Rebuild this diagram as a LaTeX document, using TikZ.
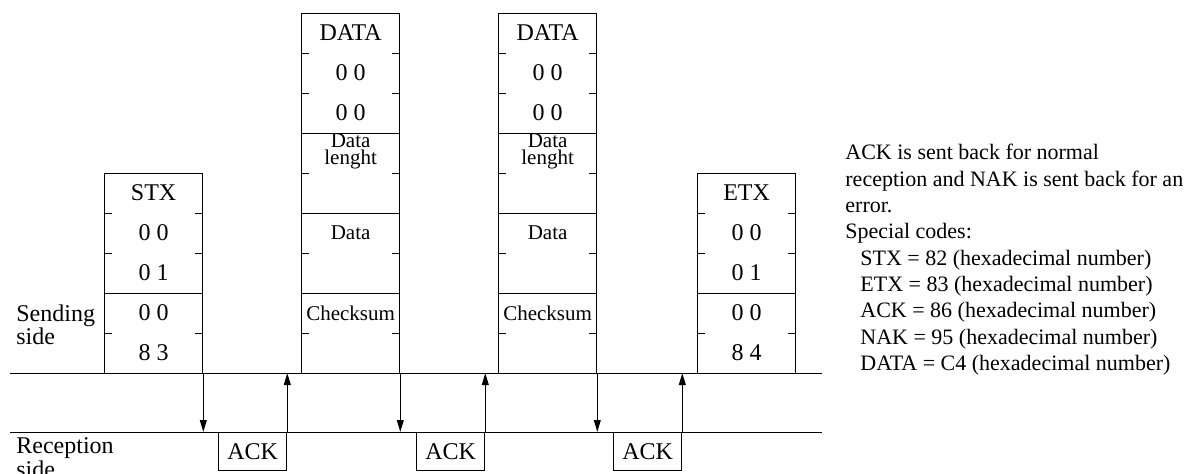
\documentclass[tikz,border=0pt]{standalone}
\usepackage{fontspec}
\setmainfont{Liberation Serif}
\usetikzlibrary{arrows.meta,positioning,calc}

\begin{document}
\begin{tikzpicture}[x=0.5pt,y=-0.5pt,font=\fontsize{12}{14}\selectfont,
  frame/.style={draw,line width=0.65pt,minimum width=49pt,inner sep=0,anchor=north west},
  ackbox/.style={draw,line width=0.65pt,minimum width=34pt,minimum height=19pt,inner sep=0,anchor=north west},
  field/.style={inner sep=0},
  small/.style={inner sep=0,font=\fontsize{10.5}{7}\selectfont,align=center},
  rowline/.style={line width=0.45pt},
  level/.style={line width=0.5pt},
  side/.style={inner sep=0,anchor=north west,align=left,font=\fontsize{12}{9.5}\selectfont},
  msg/.style={-{Triangle[length=6pt,width=3.4pt]},line width=0.65pt}]
  \useasboundingbox (0,0) rectangle (1184,473);

  % sending and reception levels
  \coordinate (sendL) at (10,373);
  \coordinate (sendR) at (822,373);
  \coordinate (recvL) at (10,432);
  \coordinate (recvR) at (822,432);
  \draw[level] (sendL) -- (sendR);
  \draw[level] (recvL) -- (recvR);
  \node[side] (sendlbl) at (16,304) {Sending\\side};
  \node[side] (recvlbl) at (16,437) {Reception\\side};

  % frames
  \node[frame,minimum height=100pt] (stx) at (104,173) {};
  \node[frame,minimum height=180pt] (data1) at (301,13) {};
  \node[frame,minimum height=180pt] (data2) at (498,13) {};
  \node[frame,minimum height=100pt] (etx) at (697,173) {};

  \foreach \fr in {stx,etx}{
    \foreach \k in {1,2,4}{
      \draw[rowline] ($(\fr.north west)+(0,\k*40)$) -- ++(8,0);
      \draw[rowline] ($(\fr.north east)+(0,\k*40)$) -- ++(-8,0);
    }
    \draw[rowline] ($(\fr.north west)+(0,120)$) -- ($(\fr.north east)+(0,120)$);
  }
  \foreach \fr in {data1,data2}{
    \foreach \k in {1,2,4,6,8}{
      \draw[rowline] ($(\fr.north west)+(0,\k*40)$) -- ++(8,0);
      \draw[rowline] ($(\fr.north east)+(0,\k*40)$) -- ++(-8,0);
    }
    \foreach \k in {3,5,7}
      \draw[rowline] ($(\fr.north west)+(0,\k*40)$) -- ($(\fr.north east)+(0,\k*40)$);
    \node[field] at ($(\fr.north)+(0,20)$) {DATA};
    \node[field] at ($(\fr.north)+(0,60)$) {0 0};
    \node[field] at ($(\fr.north)+(0,100)$) {0 0};
    \node[small] at ($(\fr.north)+(0,138)$) {Data\\lenght};
    \node[small] at ($(\fr.north)+(0,220)$) {Data};
    \node[small] at ($(\fr.north)+(0,300)$) {Checksum};
  }
  \foreach \txt [count=\k] in {STX,0 0,0 1,0 0,8 3}
    \node[field] at ($(stx.north)+(0,\k*40-20)$) {\txt};
  \foreach \txt [count=\k] in {ETX,0 0,0 1,0 0,8 4}
    \node[field] at ($(etx.north)+(0,\k*40-20)$) {\txt};

  % acknowledgements
  \node[ackbox] (ack1) at (218,432) {};
  \node[ackbox] (ack2) at (416,432) {};
  \node[ackbox] (ack3) at (613,432) {};
  \foreach \a in {ack1,ack2,ack3}
    \node[field] at (\a.center) {ACK};

  % messages
  \foreach \fr/\n in {stx/1,data1/2,data2/3}{
    \coordinate (in\n) at (\fr.south east |- recvL);
    \draw[msg] (\fr.south east) -- (in\n);
  }
  \foreach \n in {1,2,3}{
    \coordinate (back\n) at (ack\n.north east |- sendL);
    \draw[msg] (ack\n.north east) -- (back\n);
  }

  % notes
  \node[inner sep=0,anchor=north west,align=left,font=\fontsize{11}{13.15}\selectfont] (notes) at (845,144)
    {ACK is sent back for normal\\
     reception and NAK is sent back for an\\
     error.\\
     Special codes:\\
     \hspace*{7.5pt}STX = 82 (hexadecimal number)\\
     \hspace*{7.5pt}ETX = 83 (hexadecimal number)\\
     \hspace*{7.5pt}ACK = 86 (hexadecimal number)\\
     \hspace*{7.5pt}NAK = 95 (hexadecimal number)\\
     \hspace*{7.5pt}DATA = C4 (hexadecimal number)};
\end{tikzpicture}
\end{document}
